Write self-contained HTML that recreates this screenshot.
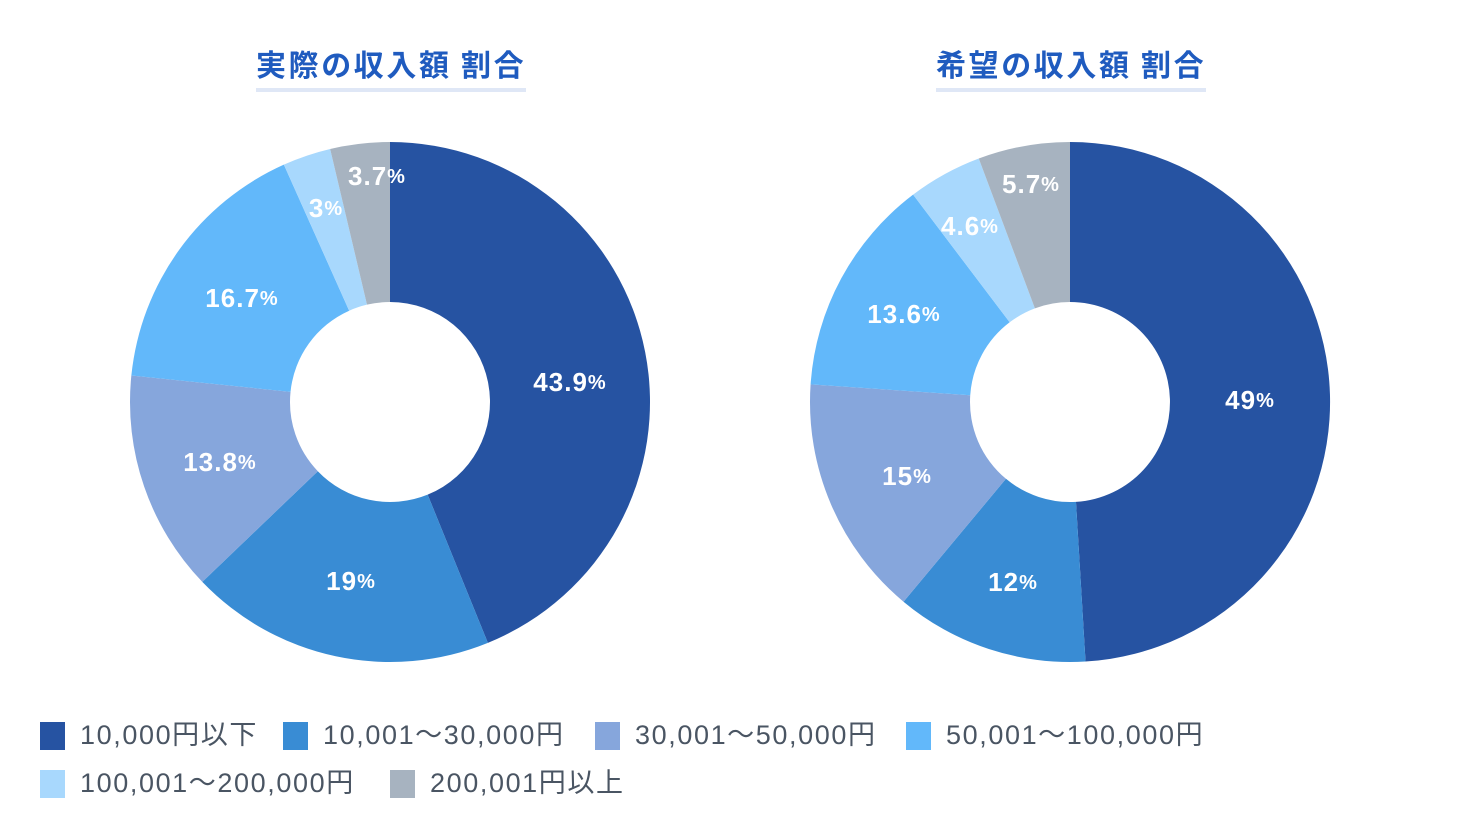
<!DOCTYPE html>
<html><head><meta charset="utf-8"><style>
body{margin:0;background:#fff;width:1460px;height:838px;overflow:hidden;font-family:"Liberation Sans","Noto Sans CJK JP",sans-serif;}
.t{position:absolute;top:41px;font-size:30px;font-weight:bold;color:#1f5bbf;padding-bottom:3px;border-bottom:4px solid #dfe7f6;font-family:"Noto Sans CJK JP",sans-serif;letter-spacing:2.6px;}
.lg{position:absolute;font-size:27px;color:#4a5563;height:30px;line-height:30px;white-space:nowrap;}
.lg i{position:absolute;left:0;top:2px;width:25px;height:28px;}
.lg span{position:absolute;left:40px;top:0;letter-spacing:1.6px;}
svg text{font-family:"Liberation Sans",sans-serif;font-weight:bold;font-size:26px;fill:#fff;text-anchor:middle;dominant-baseline:middle;letter-spacing:1px;}
svg tspan.p{font-size:20px;}
</style></head><body>
<div class="t" style="left:256px">実際の収入額 割合</div>
<div class="t" style="left:936px">希望の収入額 割合</div>
<svg width="1460" height="838" style="position:absolute;left:0;top:0">
<g id="L"></g><g id="R"></g>
<text x="570" y="384">43.9<tspan class="p">%</tspan></text>
<text x="351" y="583">19<tspan class="p">%</tspan></text>
<text x="220" y="464">13.8<tspan class="p">%</tspan></text>
<text x="242" y="300">16.7<tspan class="p">%</tspan></text>
<text x="326" y="210">3<tspan class="p">%</tspan></text>
<text x="377" y="178">3.7<tspan class="p">%</tspan></text>
<text x="1250" y="402">49<tspan class="p">%</tspan></text>
<text x="1013" y="584">12<tspan class="p">%</tspan></text>
<text x="907" y="478">15<tspan class="p">%</tspan></text>
<text x="904" y="316">13.6<tspan class="p">%</tspan></text>
<text x="970" y="228">4.6<tspan class="p">%</tspan></text>
<text x="1031" y="186">5.7<tspan class="p">%</tspan></text>
</svg>
<div class="lg" style="left:40px;top:720px"><i style="background:#2653a2"></i><span>10,000円以下</span></div>
<div class="lg" style="left:283px;top:720px"><i style="background:#398cd4"></i><span>10,001～30,000円</span></div>
<div class="lg" style="left:595px;top:720px"><i style="background:#86a6dc"></i><span>30,001～50,000円</span></div>
<div class="lg" style="left:906px;top:720px"><i style="background:#62b8fa"></i><span>50,001～100,000円</span></div>
<div class="lg" style="left:40px;top:768px"><i style="background:#a8d8fd"></i><span>100,001～200,000円</span></div>
<div class="lg" style="left:390px;top:768px"><i style="background:#a7b3c0"></i><span>200,001円以上</span></div>
<script>
var C=["#2653a2","#398cd4","#86a6dc","#62b8fa","#a8d8fd","#a7b3c0"];
function donut(id,cx,cy,d){var s=d.reduce((a,b)=>a+b,0),a0=0,R=260,r=100,h="";
d.forEach(function(v,i){var a1=a0+v/s*2*Math.PI;
function p(rr,a){return (cx+rr*Math.sin(a)).toFixed(2)+","+(cy-rr*Math.cos(a)).toFixed(2);}
var lg=(a1-a0)>Math.PI?1:0;
h+='<path fill="'+C[i]+'" d="M'+p(R,a0)+' A'+R+','+R+' 0 '+lg+' 1 '+p(R,a1)+' L'+p(r,a1)+' A'+r+','+r+' 0 '+lg+' 0 '+p(r,a0)+' Z"/>';
a0=a1;});
document.getElementById(id).innerHTML=h;}
donut("L",390,402,[43.9,19,13.8,16.7,3,3.7]);
donut("R",1070,402,[49,12,15,13.6,4.6,5.7]);
</script>
</body></html>
